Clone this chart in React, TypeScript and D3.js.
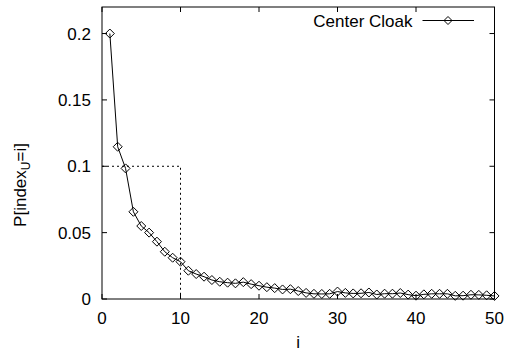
import React from "react";
import * as d3 from "d3";

const indices: number[] = d3.range(1, 51);
const probValues: number[] = [
  0.2, 0.1147, 0.0984, 0.0657, 0.055, 0.05, 0.0432, 0.0356, 0.0311, 0.0281,
  0.0213, 0.0188, 0.0168, 0.0143, 0.013, 0.0123, 0.0118, 0.0127, 0.0112, 0.01,
  0.0089, 0.0082, 0.0072, 0.0074, 0.006, 0.0046, 0.0039, 0.0038, 0.0039, 0.0056,
  0.0046, 0.0042, 0.0043, 0.0049, 0.0034, 0.004, 0.004, 0.0045, 0.0033, 0.0025,
  0.0035, 0.0039, 0.0039, 0.0039, 0.0024, 0.0025, 0.0032, 0.0031, 0.0028, 0.0023,
];
const xTicks: number[] = [0, 10, 20, 30, 40, 50];
const yTicks: number[] = [0, 0.05, 0.1, 0.15, 0.2];
const yTickLabels: string[] = ["0", "0.05", "0.1", "0.15", "0.2"];
const seriesName = "Center Cloak";
const refX = 10;
const refY = 0.1;

const W = 507;
const H = 352;
const L = 102;
const R = 494.5;
const T = 7;
const B = 299;
const FONT = "'Liberation Sans', Arial, Helvetica, sans-serif";
const TICK = 5;

function Diamond({ cx, cy, r = 4.5 }: { cx: number; cy: number; r?: number }) {
  return (
    <path
      d={`M${cx},${cy - r}L${cx + r},${cy}L${cx},${cy + r}L${cx - r},${cy}Z`}
      fill="none"
      stroke="#000"
      strokeWidth={1}
    />
  );
}

export default function App() {
  const x = d3.scaleLinear().domain([0, 50]).range([L, R]);
  const y = d3.scaleLinear().domain([0, 0.22]).range([B, T]);
  const data = indices.map((i, k) => ({ i, v: probValues[k] }));
  const line = d3
    .line<{ i: number; v: number }>()
    .x((d) => x(d.i))
    .y((d) => y(d.v));

  return (
    <svg
      width={W}
      height={H}
      style={{ position: "absolute", left: 0, top: 0, background: "#fff" }}
      fontFamily={FONT}
      fontSize={17}
    >
      <rect x={0} y={0} width={W} height={H} fill="#fff" />
      {/* reference dotted lines */}
      <path
        d={`M${x(0)},${y(refY)}L${x(refX)},${y(refY)}L${x(refX)},${y(0)}`}
        fill="none"
        stroke="#000"
        strokeWidth={1}
        strokeDasharray="2,3"
      />
      {/* ticks */}
      {xTicks.map((t) => (
        <g key={"x" + t}>
          <line x1={x(t)} x2={x(t)} y1={B} y2={B - TICK} stroke="#000" />
          <line x1={x(t)} x2={x(t)} y1={T} y2={T + TICK} stroke="#000" />
          <text x={x(t)} y={324} textAnchor="middle" fill="#000">
            {t}
          </text>
        </g>
      ))}
      {yTicks.map((t, k) => (
        <g key={"y" + t}>
          <line x1={L} x2={L + TICK} y1={y(t)} y2={y(t)} stroke="#000" />
          <line x1={R} x2={R - TICK} y1={y(t)} y2={y(t)} stroke="#000" />
          <text x={91} y={y(t) + 6} textAnchor="end" fill="#000">
            {yTickLabels[k]}
          </text>
        </g>
      ))}
      {/* frame */}
      <rect x={L} y={T} width={R - L} height={B - T} fill="none" stroke="#000" strokeWidth={1} />
      {/* series */}
      <path d={line(data) || ""} fill="none" stroke="#000" strokeWidth={1} />
      {data.map((d) => (
        <Diamond key={d.i} cx={x(d.i)} cy={y(d.v)} />
      ))}
      {/* legend */}
      <text x={412.5} y={26.5} textAnchor="end" fill="#000">
        {seriesName}
      </text>
      <line x1={422.5} x2={474} y1={20.5} y2={20.5} stroke="#000" />
      <Diamond cx={448} cy={20.5} r={4} />
      {/* axis labels */}
      <text x={(L + R) / 2} y={348} textAnchor="middle" fill="#000">
        i
      </text>
      <text transform="translate(26,185) rotate(-90)" textAnchor="middle" fill="#000">
        P[index
        <tspan fontSize={12} dy={4}>
          U
        </tspan>
        <tspan dy={-4}>=i]</tspan>
      </text>
    </svg>
  );
}
